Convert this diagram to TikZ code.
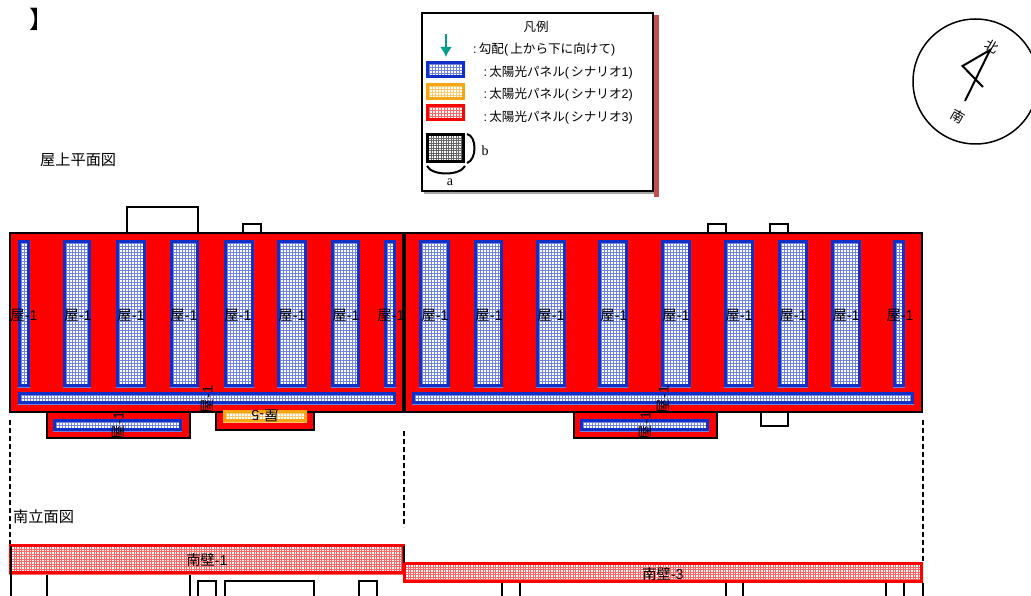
\documentclass[tikz,border=0pt]{standalone}
\usepackage{fontspec}
\usetikzlibrary{arrows.meta}
\setmainfont{Liberation Sans}
\newfontfamily\jpfont{Noto Sans CJK JP}
\newfontfamily\latinserif{Liberation Serif}
\definecolor{panelblue}{HTML}{1030C8}
\definecolor{panelorange}{HTML}{F5A614}
\definecolor{roofred}{HTML}{FF0000}
\definecolor{slopeteal}{HTML}{009C8C}
\definecolor{shadowred}{HTML}{C0504D}
\tikzset{
	bldg/.style={draw=black,line width=2.3pt},
	roofbox/.style={bldg,fill=roofred},
	cutline/.style={black,line width=2.1pt,dash pattern=on 5pt off 3pt},
	lbl/.style={inner sep=0pt,font=\fontsize{14.3}{14}\selectfont},
	legendlbl/.style={inner sep=0pt,anchor=west,font=\fontsize{12.6}{13}\selectfont}
}
% outer edges: x0,y0,x1,y1, colour, cell size
\newcommand{\solarpanel}[6]{
	\begin{scope}
		\clip (#1,#2) rectangle (#3,#4);
		\fill[white] (#1,#2) rectangle (#3,#4);
		\pgfmathsetmacro{\nx}{int((#3-#1)/#6)}
		\pgfmathsetmacro{\ny}{int((#4-#2)/#6)}
		\foreach \k in {0,...,\nx} {\draw[#5!60,line width=.3pt] ({#1+\k*#6},#2) -- ({#1+\k*#6},#4);}
		\foreach \k in {0,...,\ny} {\draw[#5!60,line width=.3pt] (#1,{#2+\k*#6}) -- (#3,{#2+\k*#6});}
	\end{scope}
	\draw[#5,line width=3.4pt] ({#1+1.7},{#2+1.7}) rectangle ({#3-1.7},{#4-1.7});
}
\begin{document}
\begin{tikzpicture}[x=1pt,y=-1pt]
	\useasboundingbox (0,0) rectangle (1031,596);

	% top left
	\node[inner sep=0pt,font=\fontsize{24}{24}\selectfont\jpfont] (bracket) at (41,19) {】};
	\node[lbl,anchor=west,font=\fontsize{15.2}{15}\selectfont\jpfont] (plantitle) at (40,160) {屋上平面図};

	% legend
	\fill[shadowred] (654,15) rectangle (659,197);
	\fill[black!35] (424,191) rectangle (654,194);
	\draw[black,fill=white,line width=2.2pt] (422,13) rectangle (653,191);
	\node[lbl,font=\fontsize{12.5}{12}\selectfont\jpfont] (legendtitle) at (536,27) {凡例};
	\coordinate (slopea) at (446,34);
	\coordinate (slopeb) at (446,57);
	\draw[slopeteal,line width=2.2pt,-{Latex[length=10pt,width=12pt]}] (slopea) -- (slopeb);
	\node[legendlbl] (legendslope) at (473,49.5) {:\,{\jpfont 勾配}(\,{\jpfont 上から下に向けて})};
	\solarpanel{426}{61}{465}{78}{panelblue}{3}
	\solarpanel{426}{83}{465}{100}{panelorange}{3}
	\solarpanel{426}{104}{465}{121}{roofred}{3}
	\node[legendlbl] (legendone) at (483.5,72.5) {:\,{\jpfont 太陽光パネル}(\,{\jpfont シナリオ}1)};
	\node[legendlbl] (legendtwo) at (483.5,94.5) {:\,{\jpfont 太陽光パネル}(\,{\jpfont シナリオ}2)};
	\node[legendlbl] (legendthree) at (483.5,117.5) {:\,{\jpfont 太陽光パネル}(\,{\jpfont シナリオ}3)};
	\solarpanel{426}{133}{465}{163}{black}{2.5}
	\draw[black,line width=3.5pt] (427.7,134.7) rectangle (463.3,161.3);
	\draw[black,line width=2pt] (467,134) .. controls (477,136) and (477,160) .. (467,163);
	\draw[black,line width=2pt] (427,166) .. controls (432,176) and (460,176) .. (465,166);
	\node[inner sep=0pt,font=\fontsize{14}{14}\selectfont\latinserif] (lblb) at (485,151) {b};
	\node[inner sep=0pt,font=\fontsize{14}{14}\selectfont\latinserif] (lbla) at (450,182) {a};

	% compass
	\draw[black,line width=1.5pt] (975.5,81.5) circle (62.5);
	\draw[black,line width=2pt] (965,101) -- (990,50) -- (962.5,66) -- (983,87);
	\node[lbl,rotate=-30,font=\fontsize{13.5}{13}\selectfont\jpfont] (north) at (992,46) {北};
	\node[lbl,rotate=-30,font=\fontsize{13.5}{13}\selectfont\jpfont] (south) at (958,116) {南};

	% things sticking out of the roof
	\draw[bldg] (127,233) rectangle (198,207);
	\draw[bldg] (243,233) rectangle (261,224);
	\draw[bldg] (708,233) rectangle (726,224);
	\draw[bldg] (770,233) rectangle (788,224);
	\draw[bldg] (761,412) rectangle (788,426);

	% lower roofs
	\draw[roofbox] (47,412) rectangle (190,438);
	\draw[roofbox] (216,412) rectangle (314,430);
	\draw[roofbox] (574,412) rectangle (717,438);

	% main roof
	\draw[roofbox] (10,233) rectangle (922,412);
	\draw[black,line width=3.5pt] (404,233) -- (404,412);

	\foreach \xa/\xb in {18/30,63/91,116/146,170/199,224/254,277/307,331/360,384/396,
		419/450,474/503,536/566,598/628,661/691,724/754,778/808,831/861,893/905} {
		\solarpanel{\xa}{240}{\xb}{387}{panelblue}{3}
	}
	\solarpanel{18}{392}{396}{404}{panelblue}{3}
	\solarpanel{412}{392}{914}{404}{panelblue}{3}
	\solarpanel{53}{419}{182}{431}{panelblue}{3}
	\solarpanel{580}{419}{709}{431}{panelblue}{3}
	\solarpanel{223}{410}{307}{422}{panelorange}{3}

	\foreach \x [count=\i] in {24,78,131,184,238,292,346,391,435,489,551,614,676,739,793,846,900}
		\node[lbl] (roof\i) at (\x,315) {{\jpfont 屋}-1};

	\node[lbl,rotate=90] (roofa) at (207.5,399.5) {{\jpfont 屋}-1};
	\node[lbl,rotate=90] (roofb) at (118.5,425.5) {{\jpfont 屋}-1};
	\node[lbl,rotate=90] (roofc) at (663.5,399.5) {{\jpfont 屋}-1};
	\node[lbl,rotate=90] (roofd) at (645.5,425.5) {{\jpfont 屋}-1};
	\node[lbl,rotate=180] (roofe) at (265,416) {{\jpfont 屋}-5};

	% section lines
	\coordinate (cuta) at (10,420);
	\coordinate (cutb) at (10,545);
	\coordinate (cutc) at (404,431);
	\coordinate (cutd) at (404,527);
	\coordinate (cute) at (923,420);
	\coordinate (cutf) at (923,562);
	\draw[cutline] (cuta) -- (cutb);
	\draw[cutline] (cutc) -- (cutd);
	\draw[cutline] (cute) -- (cutf);

	\node[lbl,anchor=west,font=\fontsize{15.2}{15}\selectfont\jpfont] (elevtitle) at (13,517) {南立面図};

	% south elevation
	\draw[bldg] (47,597) -- (47,573) -- (190,573) -- (190,597);
	\foreach \xa/\xb in {198/216,225/314,359/377,502/520,726/743,886/904}
		\draw[bldg] (\xa,597) -- (\xa,581) -- (\xb,581) -- (\xb,597);
	\solarpanel{9}{544}{405}{574}{roofred}{2.5}
	\solarpanel{403}{562}{923}{583}{roofred}{2.5}
	\draw[black,line width=2pt] (10.5,546) -- (10.5,596);
	\draw[black,line width=2pt] (404,546) -- (404,563);
	\draw[black,line width=2pt] (923,583) -- (923,596);
	\node[lbl] (walla) at (207,560) {{\jpfont 南壁}-1};
	\node[lbl] (wallb) at (663,574) {{\jpfont 南壁}-3};
\end{tikzpicture}
\end{document}
